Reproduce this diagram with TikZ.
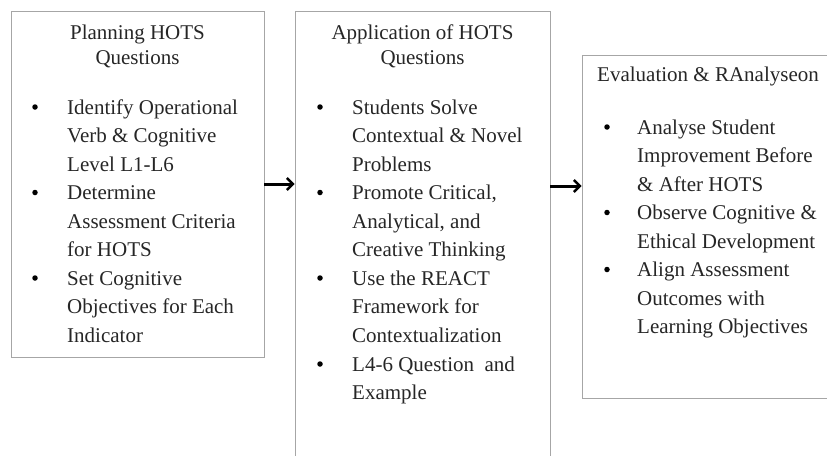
\documentclass[tikz,border=0pt]{standalone}
\usepackage{fontspec}
\setmainfont{Liberation Serif}
\usetikzlibrary{arrows.meta}
\usetikzlibrary{positioning}

\begin{document}
\begin{tikzpicture}[
      x = 1pt, y = -1pt,
      font = \fontsize{21}{28.5}\selectfont,
      text = black!85,
      stage/.style = {
        draw = black!35, line width = 0.8pt,
        inner sep = 0
      },
      heading/.style = { align = center, inner sep = 0, anchor = base, font = \fontsize{21}{25}\selectfont },
      entry/.style = { align = left, inner sep = 0, anchor = north west, yshift = 19.95pt },
      dot/.style = { circle, fill = black, inner sep = 0, minimum size = 5.5pt },
      flow/.style = { -{Straight Barb[length = 6pt, width = 12pt, line width = 2.4pt]}, line width = 3pt },
    ]

    \clip (0,0) rectangle (827,455);

    % the three stages
    \node[stage, minimum width = 253pt, minimum height = 346pt] (plan) at (137.5,184) {};
    \node[stage, minimum width = 255pt, minimum height = 470pt] (apply) at (422.5,246) {};
    \node[stage, minimum width = 260pt, minimum height = 343pt] (eval) at (712,226.5) {};

    % headings (base = last line)
    \node[heading] (planT) at (137.5,64) {Planning HOTS\\Questions};
    \node[heading] (applyT) at (422.5,64) {Application of HOTS\\Questions};
    \node[heading, anchor = base west] (evalT) at (597,81) {Evaluation \& RAnalyseon};

    \foreach \y/\t [count=\i] in {
        114/{Identify Operational\\Verb \& Cognitive\\Level L1-L6},
        199.5/{Determine\\Assessment Criteria\\for HOTS},
        285/{Set Cognitive\\Objectives for Each\\Indicator}} {
      \node[dot] at (35,\y-7) {};
      \node[entry] (P\i) at (67,\y) {\strut\t};
    }

    \foreach \y/\t [count=\i] in {
        114/{Students Solve\\Contextual \& Novel\\Problems},
        199.5/{Promote Critical,\\Analytical, and\\Creative Thinking},
        285/{Use the REACT\\Framework for\\Contextualization},
        371/{L4-6 Question\ \ and\\Example}} {
      \node[dot] at (320,\y-7) {};
      \node[entry] (A\i) at (352,\y) {\strut\t};
    }

    \foreach \y/\t [count=\i] in {
        134/{Analyse Student\\Improvement Before\\\& After HOTS},
        219.5/{Observe Cognitive \&\\Ethical Development},
        276.5/{Align Assessment\\Outcomes with\\Learning Objectives}} {
      \node[dot] at (607,\y-7) {};
      \node[entry] (E\i) at (637,\y) {\strut\t};
    }

    \draw[flow] (plan.east) to (plan.east -| apply.west);
    \draw[flow] ([yshift = -2pt]plan.east -| apply.east) to ([yshift = -2pt]plan.east -| eval.west);
  \end{tikzpicture}
\end{document}
